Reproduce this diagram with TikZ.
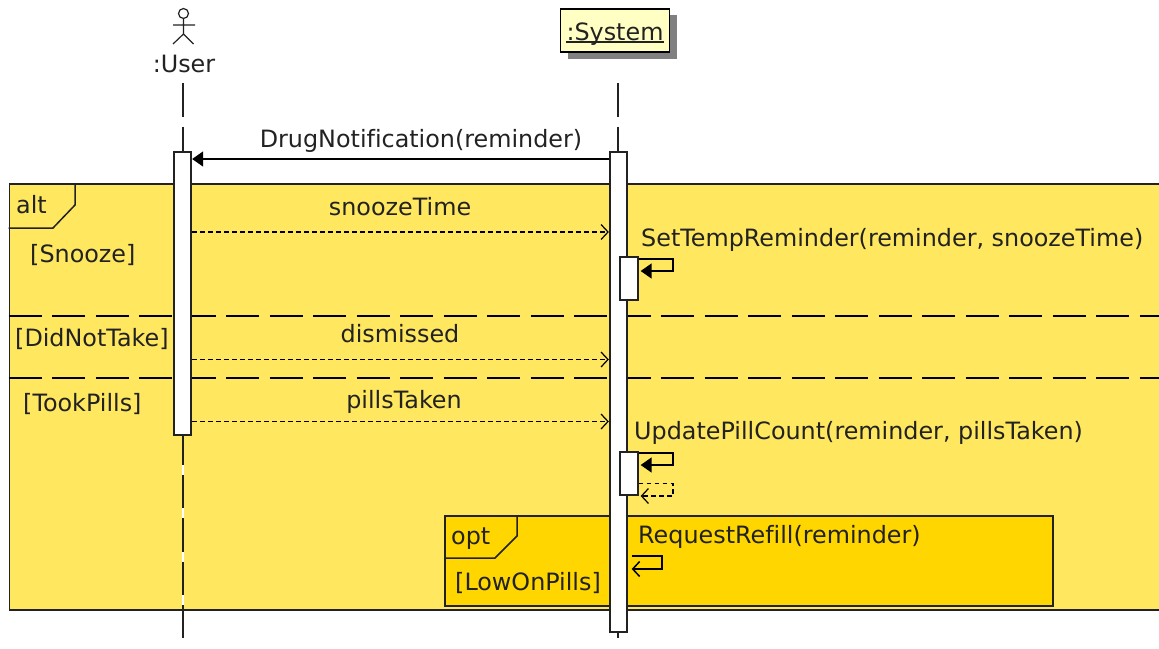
\documentclass[tikz,border=0pt]{standalone}
\usepackage{fontspec}
\setmainfont[Ligatures=NoCommon]{DejaVu Sans}
\usetikzlibrary{arrows.meta}
\definecolor{altfill}{HTML}{FFE85F}
\definecolor{optfill}{HTML}{FFD600}
\definecolor{notefill}{HTML}{FFFFC4}
\definecolor{ink}{HTML}{222222}
\tikzset{
  label text/.style={font=\fontsize{23.85}{28}\selectfont, text=ink, inner sep=0pt, anchor=base west},
  bar/.style={draw=ink, fill=white, line width=1.8pt, inner sep=0pt, minimum width=17.5pt},
  lifeline/.style={draw=ink, line width=1.5pt, dash pattern=on 33.5pt off 10pt},
  frame/.style={draw=ink, line width=1.5pt, inner sep=0pt, anchor=north west},
  call/.style={draw=black, line width=1.5pt, -{Triangle[length=11pt,width=15pt]}},
  reply/.style={draw=black, line width=1.2pt, dash pattern=on 4.5pt off 3.5pt, -{Straight Barb[length=7pt,width=15pt]}},
  async/.style={draw=black, line width=1.5pt, -{Straight Barb[length=7pt,width=15pt]}},
  divider/.style={draw=black, line width=1.5pt, dash pattern=on 33pt off 10.5pt}
}
\begin{document}
\begin{tikzpicture}[x=1pt, y=-1pt]
  \path[use as bounding box, clip] (0,0) rectangle (1159,648);

  % Frames
  \node[frame, fill=altfill, minimum width=1170pt, minimum height=426pt] (alt) at (8.5,183) {};
  \draw[frame] (8.5,228) -- (53,228) -- (75,205) -- (75,183);
  \node[label text] (altName) at (16,213) {alt};
  \node[label text] (guardSnooze) at (30,262) {[Snooze]};
  \node[label text] (guardDidNotTake) at (15,346) {[DidNotTake]};
  \node[label text] (guardTookPills) at (23,411) {[TookPills]};
  \coordinate (sepA) at (8.5,316);
  \coordinate (sepB) at (8.5,378);
  \coordinate (sepEnd) at (1170,0);
  \draw[divider] (sepA) -- (sepA -| sepEnd);
  \draw[divider] (sepB) -- (sepB -| sepEnd);

  \node[frame, fill=optfill, minimum width=608pt, minimum height=90pt] (opt) at (444,515) {};
  \draw[frame] (444,558) -- (495,558) -- (517,536) -- (517,515);
  \node[label text] (optName) at (451,544) {opt};
  \node[label text] (guardLow) at (455,590) {[LowOnPills]};

  % Participants
  \node[circle, draw=ink, line width=1.2pt, fill=white, minimum size=10pt, inner sep=0pt] (head) at (183.5,13.5) {};
  \coordinate (hip) at (183.5,34);
  \coordinate (armL) at (173,25);
  \coordinate (armR) at (195,25);
  \coordinate (footL) at (173,44);
  \coordinate (footR) at (193.5,44);
  \draw[draw=ink, line width=1.2pt] (head) -- (hip) (armL) -- (armR) (footL) -- (hip) -- (footR);
  \node[label text, anchor=base] (user) at (184,72) {:User};

  \fill[gray] (567.5,15) rectangle (676.5,58.5);
  \node[draw=black, line width=1.5pt, fill=notefill, minimum width=109pt, minimum height=43pt, inner sep=0pt] (system) at (615,30.5) {};
  \node[label text, anchor=base] (systemName) at (615,40) {:System};
  \draw[ink, line width=1.5pt] ([yshift=-2pt]systemName.base west) -- ([yshift=-2pt]systemName.base east);

  % Lifelines
  \coordinate (userTop) at (183,83);
  \coordinate (userEnd) at (183,638);
  \coordinate (sysTop) at (618,83);
  \coordinate (sysEnd) at (618,638);
  \coordinate (userGap) at (183,607);
  \draw[white, line width=1.5pt] (userGap) -- (userGap |- 0,434);
  \draw[lifeline] (userTop) -- (userEnd);
  \draw[lifeline] (sysTop) -- (sysEnd);

  % Activations
  \node[bar, minimum height=283pt, anchor=north] (barUser) at (182.5,151) {};
  \node[bar, minimum height=480pt, anchor=north] (barSystem) at (618.5,151) {};
  \node[bar, minimum height=43pt, anchor=north] (barSet) at (629,256) {};
  \node[bar, minimum height=43pt, anchor=north] (barUpdate) at (629,451) {};

  % Messages
  \coordinate (msgDrug) at (0,159);
  \coordinate (msgSnooze) at (0,232);
  \coordinate (msgDismiss) at (0,359.5);
  \coordinate (msgPills) at (0,421.5);
  \draw[call] (barSystem.west |- msgDrug) -- (barUser.east |- msgDrug);
  \draw[reply] (barUser.east |- msgSnooze) -- (barSystem.west |- msgSnooze);
  \draw[reply] (barUser.east |- msgDismiss) -- (barSystem.west |- msgDismiss);
  \draw[reply] (barUser.east |- msgPills) -- (barSystem.west |- msgPills);
  \node[label text, anchor=base] (drugLabel) at (421,147) {DrugNotification(reminder)};
  \node[label text, anchor=base] (snoozeLabel) at (400,215) {snoozeTime};
  \node[label text, anchor=base] (dismissLabel) at (400,342) {dismissed};
  \node[label text, anchor=base] (pillsLabel) at (404,408) {pillsTaken};

  % Self messages
  \coordinate (setA) at (673,259);
  \coordinate (setB) at (673,271);
  \draw[call] (barSet.east |- setA) -- (setA) -- (setB) -- ([xshift=2pt]barSet.east |- setB);
  \node[label text] (setLabel) at (641,246) {SetTempReminder(reminder, snoozeTime)};

  \coordinate (updA) at (673,453);
  \coordinate (updB) at (673,465);
  \draw[call] (barUpdate.east |- updA) -- (updA) -- (updB) -- ([xshift=2pt]barUpdate.east |- updB);
  \node[label text] (updateLabel) at (634,439) {UpdatePillCount(reminder, pillsTaken)};

  \coordinate (retA) at (673,483.5);
  \coordinate (retB) at (673,496);
  \draw[reply] (barUpdate.east |- retA) -- (retA) -- (retB) -- ([xshift=2pt]barUpdate.east |- retB);

  \coordinate (reqA) at (662,556);
  \coordinate (reqB) at (662,569);
  \draw[async] ([xshift=3.5pt]barSystem.east |- reqA) -- (reqA) -- (reqB) -- ([xshift=3.5pt]barSystem.east |- reqB);
  \node[label text] (requestLabel) at (638,543) {RequestRefill(reminder)};
\end{tikzpicture}
\end{document}
